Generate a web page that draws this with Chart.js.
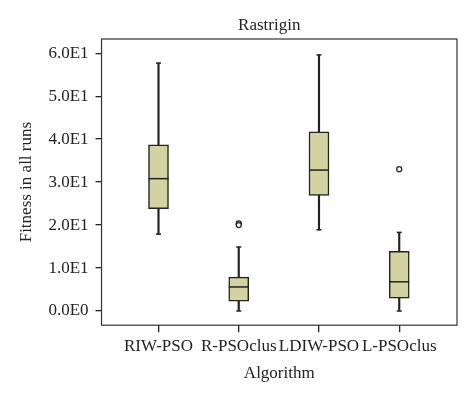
<!DOCTYPE html>
<html>
<head>
<meta charset="utf-8">
<script src="https://cdn.jsdelivr.net/npm/chart.js@4.4.0/dist/chart.umd.min.js"></script>
<style>
  html, body { margin: 0; padding: 0; background: #fff; }
  #wrap { width: 474px; height: 399px; }
</style>
</head>
<body>
<div id="wrap"><canvas id="box-chart"></canvas></div>
<script>
// ---- data ----
const algorithms = ['RIW-PSO', 'R-PSOclus', 'LDIW-PSO', 'L-PSOclus'];
const whiskerLow  = [17.9, 0.0, 18.9, 0.0];
const q1          = [23.8, 2.3, 26.9, 3.0];
const medians     = [30.8, 5.6, 32.8, 6.8];
const q3          = [38.7, 7.9, 41.7, 13.9];
const whiskerHigh = [57.7, 14.9, 59.6, 18.3];
const outlierX    = [2, 2, 4];
const outlierY    = [20.4, 20.0, 33.0];
const yTicks      = [0, 10, 20, 30, 40, 50, 60];

const titleText = 'Rastrigin';
const serif = '"Liberation Serif", "DejaVu Serif", serif';
const boxFill = '#d3d2a0';
const ink = '#222';

function sciLabel(v) {
  if (v === 0) return '0.0E0';
  return (v / 10).toFixed(1) + 'E1';
}

// median lines, whisker caps, plot frame and title
const boxExtras = {
  id: 'boxExtras',
  afterDatasetsDraw(chart) {
    const { ctx, chartArea, scales } = chart;
    const x = scales.x, y = scales.y;
    ctx.save();
    ctx.strokeStyle = ink;
    ctx.lineWidth = 1.5;
    algorithms.forEach((a, i) => {
      const cx = x.getPixelForValue(i + 1);
      // caps
      [whiskerLow[i], whiskerHigh[i]].forEach(v => {
        const py = y.getPixelForValue(v);
        ctx.beginPath();
        ctx.moveTo(cx - 2.5, py);
        ctx.lineTo(cx + 2.5, py);
        ctx.stroke();
      });
      // median
      const my = y.getPixelForValue(medians[i]);
      ctx.beginPath();
      ctx.moveTo(cx - 10, my);
      ctx.lineTo(cx + 10, my);
      ctx.stroke();
    });
    // frame
    ctx.lineWidth = 1.2;
    ctx.strokeStyle = '#333';
    ctx.strokeRect(chartArea.left, chartArea.top, chartArea.right - chartArea.left, chartArea.bottom - chartArea.top);
    // title
    ctx.fillStyle = ink;
    ctx.font = '17px ' + serif;
    ctx.textAlign = 'center';
    ctx.textBaseline = 'middle';
    ctx.fillText(titleText, (chartArea.left + chartArea.right) / 2 - 10, 26);
    ctx.restore();
  }
};

const ctx = document.getElementById('box-chart');
new Chart(ctx, {
  type: 'bar',
  data: {
    datasets: [
      {
        label: 'whisker',
        data: algorithms.map((a, i) => ({ x: i + 1, y: [whiskerLow[i], whiskerHigh[i]] })),
        backgroundColor: ink,
        barThickness: 1.5,
        grouped: false,
        order: 3,
      },
      {
        label: 'box',
        data: algorithms.map((a, i) => ({ x: i + 1, y: [q1[i], q3[i]] })),
        backgroundColor: boxFill,
        borderColor: ink,
        borderWidth: 1.5,
        borderSkipped: false,
        barThickness: 20,
        grouped: false,
        order: 2,
      },
      {
        label: 'outliers',
        type: 'scatter',
        data: outlierX.map((x, i) => ({ x, y: outlierY[i] })),
        pointRadius: 2.5,
        pointBackgroundColor: '#fff',
        pointBorderColor: ink,
        pointBorderWidth: 1.3,
        order: 1,
      }
    ]
  },
  options: {
    responsive: true,
    maintainAspectRatio: false,
    animation: false,
    layout: { padding: { top: 39, right: 17, bottom: 11, left: 12 } },
    plugins: {
      legend: { display: false },
      title: { display: false },
      tooltip: { enabled: false }
    },
    scales: {
      x: {
        type: 'linear',
        offset: false,
        min: 0.29,
        max: 4.72,
        afterBuildTicks: axis => { axis.ticks = algorithms.map((a, i) => ({ value: i + 1 })); },
        ticks: {
          color: ink,
          font: { family: serif, size: 17 },
          padding: 4,
          maxRotation: 0,
          autoSkip: false,
          callback: v => algorithms[v - 1]
        },
        grid: { offset: false, drawOnChartArea: false, drawTicks: true, tickLength: 7, color: ink, lineWidth: 1.3 },
        border: { display: false },
        title: { display: true, text: 'Algorithm', color: ink, font: { family: serif, size: 17 }, padding: { top: 3 } }
      },
      y: {
        min: -3.3,
        max: 63.3,
        afterBuildTicks: axis => { axis.ticks = yTicks.map(v => ({ value: v })); },
        ticks: {
          color: ink,
          font: { family: serif, size: 17 },
          padding: 7,
          callback: v => sciLabel(v)
        },
        grid: { drawOnChartArea: false, drawTicks: true, tickLength: 6, color: ink, lineWidth: 1.3 },
        border: { display: false },
        title: { display: true, text: 'Fitness in all runs', color: ink, font: { family: serif, size: 17 }, padding: { bottom: 5 } }
      }
    }
  },
  plugins: [boxExtras]
});
</script>
</body>
</html>
